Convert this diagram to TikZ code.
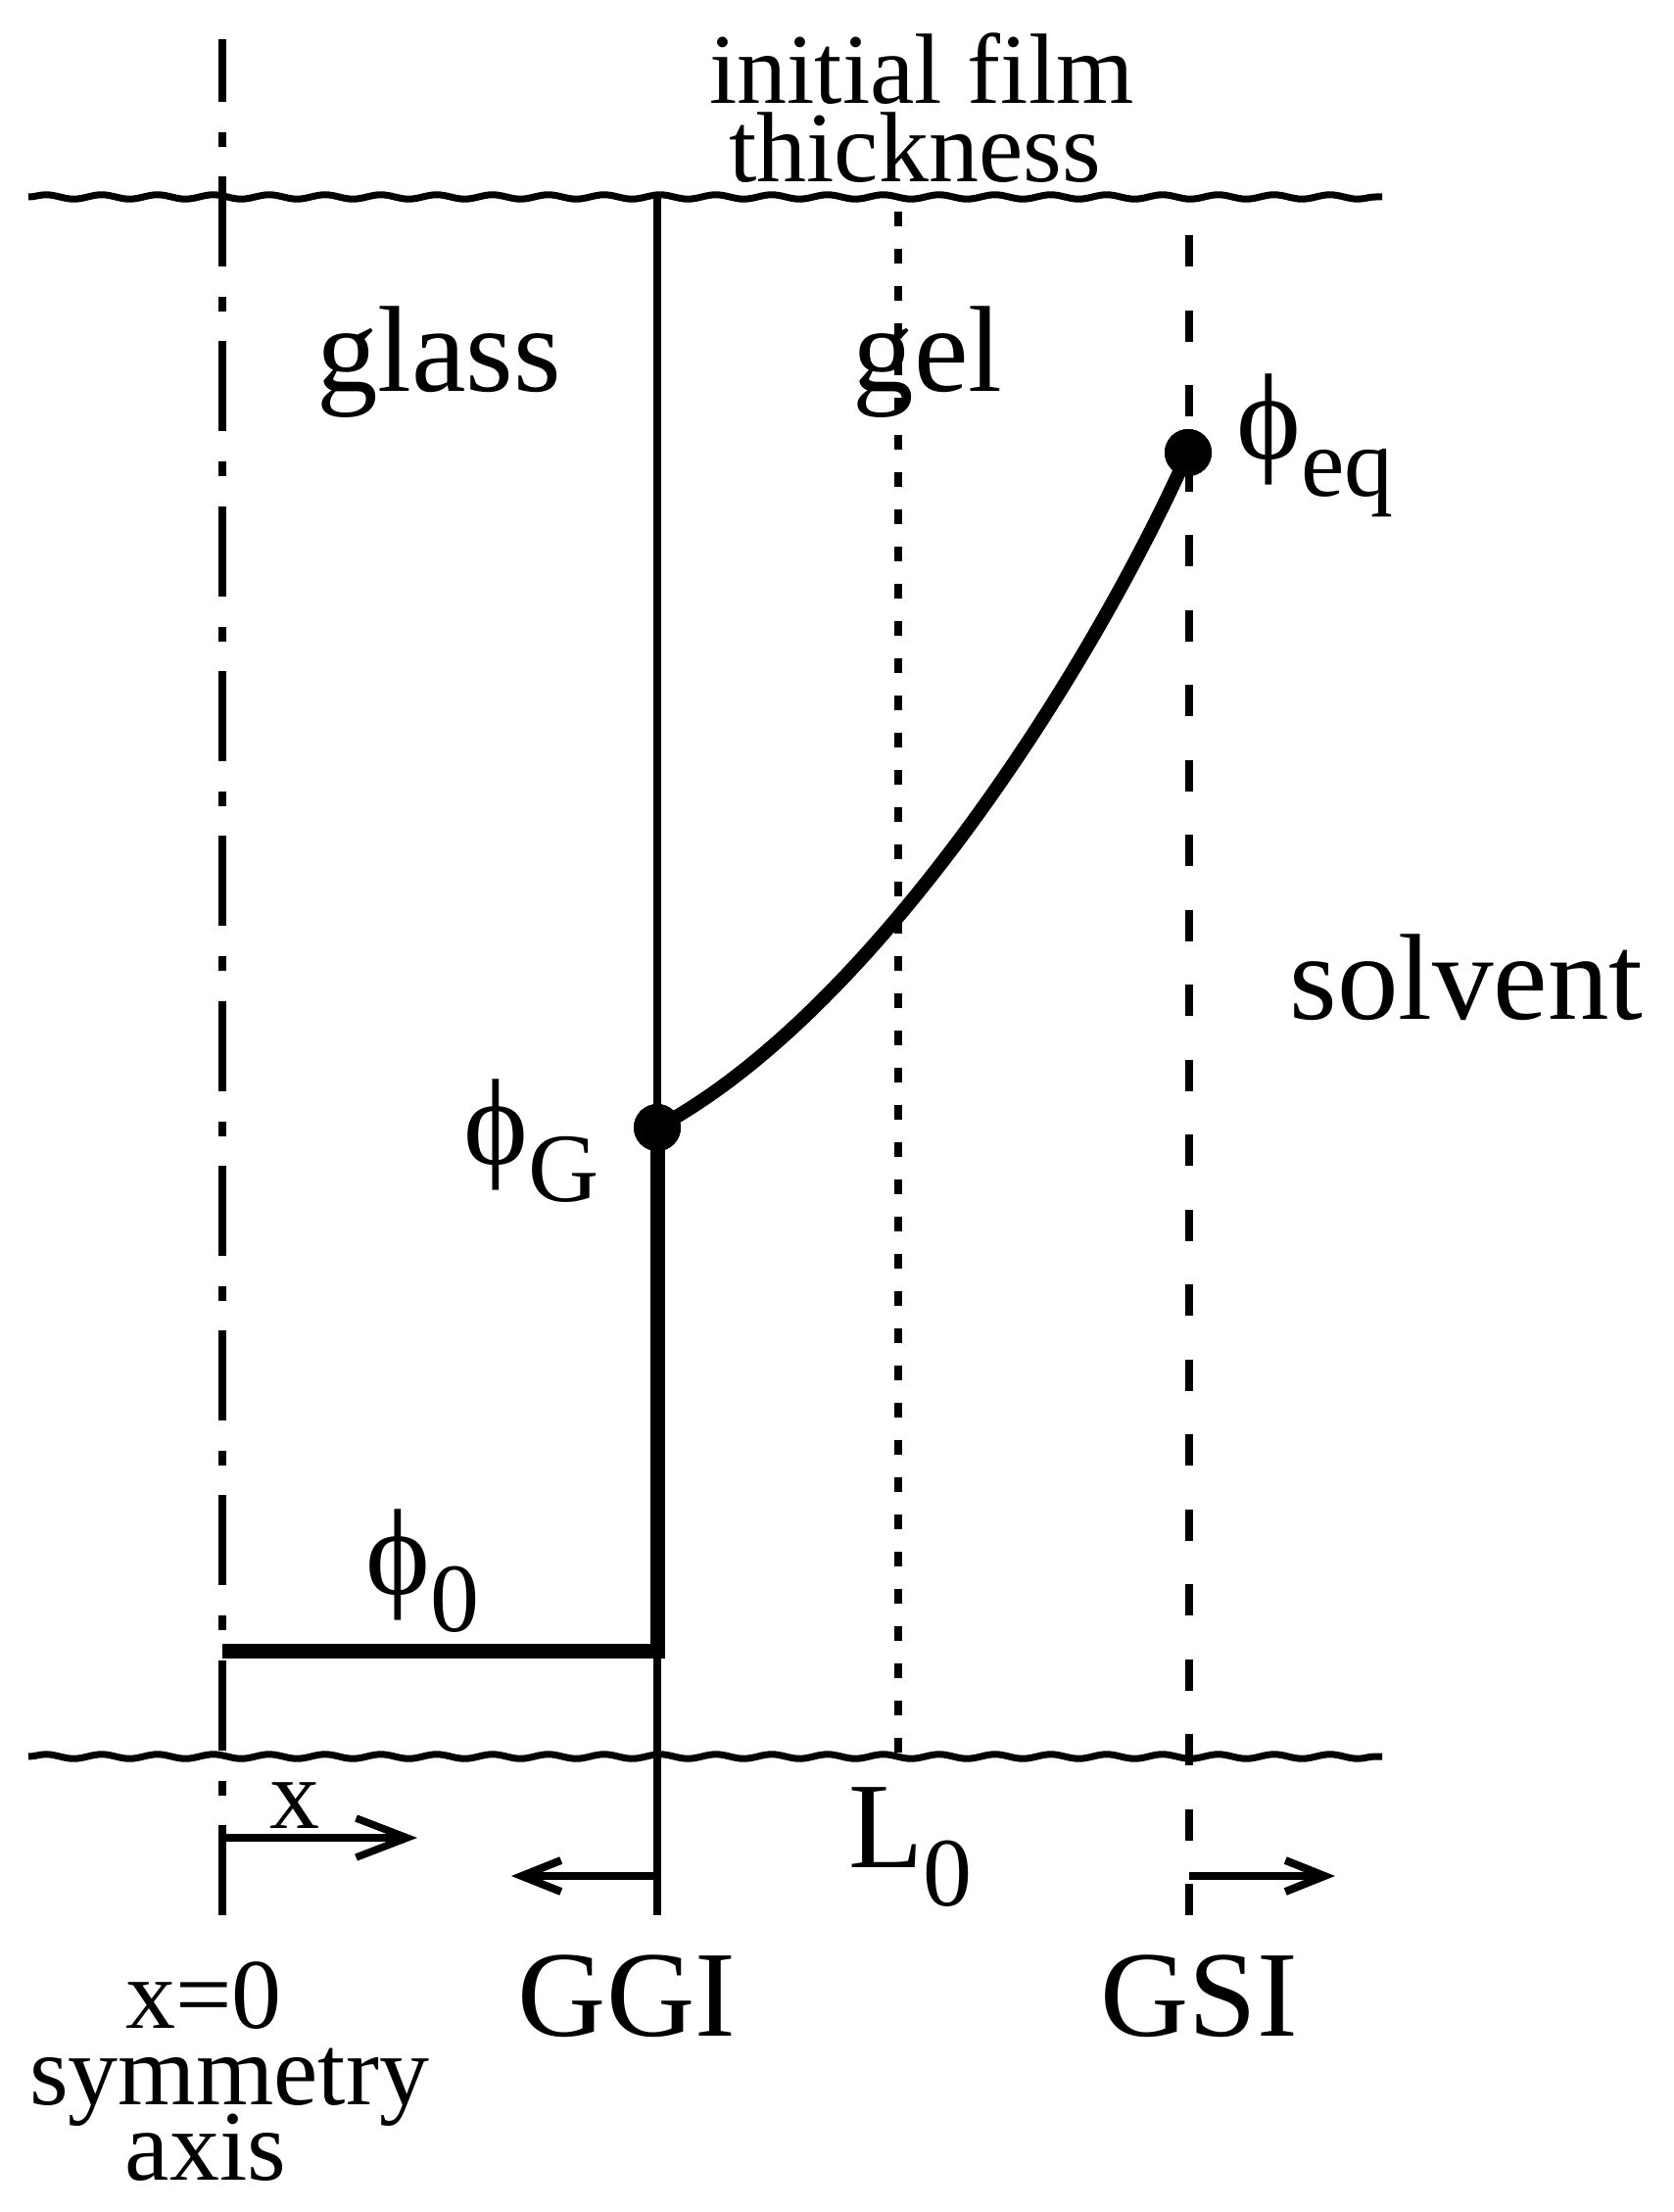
\documentclass[tikz,border=0pt]{standalone}
\usepackage{fontspec}
\setmainfont{Liberation Serif}
\usetikzlibrary{arrows.meta,decorations.pathmorphing}
\newcommand\philbl[1]{{\fontsize{125}{150}\selectfont ϕ}\raisebox{-38pt}{\fontsize{100}{120}\selectfont #1}}
\begin{document}
\begin{tikzpicture}[x=1pt,y=-1pt,
  big/.style={font=\fontsize{125}{150}\selectfont, inner sep=0pt, anchor=base},
  small/.style={font=\fontsize{102}{120}\selectfont, inner sep=0pt, anchor=base},
  sublbl/.style={inner sep=0pt, anchor=base west},
  thinln/.style={line width=8pt},
  thickln/.style={line width=15pt, line join=miter},
  wave/.style={line width=7pt, decorate, decoration={snake, segment length=57pt, amplitude=2.2pt}},
  axisln/.style={line width=8pt, dash pattern=on 92pt off 31pt on 15pt off 30.3pt, dash phase=28.3pt},
  dottedln/.style={line width=8pt, dash pattern=on 15pt off 23pt, dash phase=23pt},
  dashedln/.style={line width=8pt, dash pattern=on 32pt off 44.5pt},
  curveln/.style={line width=14pt},
  dotnode/.style={circle, fill=black, minimum size=48pt, inner sep=0pt},
  bigarr/.style={line width=7.5pt, -{Straight Barb[length=52pt,width=40pt]}},
  smallarr/.style={line width=8pt, -{Straight Barb[length=40pt,width=32pt]}}
]
\useasboundingbox (0,0) rectangle (1708,2258);

% coordinates
\coordinate (axT) at (227,40);
\coordinate (axB) at (227,1955);
\coordinate (wtL) at (29,201);
\coordinate (wtR) at (1411,201);
\coordinate (wbL) at (29,1793);
\coordinate (wbR) at (1411,1793);
\coordinate (ggT) at (671,201);
\coordinate (ggB) at (671,1955);
\coordinate (l0T) at (917,201);
\coordinate (l0B) at (917,1793);
\coordinate (gsT) at (1214,240);
\coordinate (gsB) at (1214,1956);
\coordinate (corner) at (671,1685);
\coordinate (p0L) at (227,1685);
\coordinate (xa0) at (227,1876);
\coordinate (xa1) at (426,1876);
\coordinate (ga0) at (671,1915);
\coordinate (ga1) at (522,1915);
\coordinate (sa0) at (1214,1915);
\coordinate (sa1) at (1363,1915);

% waves
\draw[wave] (wtL) -- (wtR);
\draw[wave] (wbL) -- (wbR);

% vertical lines
\draw[axisln] (axT) -- (axB);
\draw[thinln] (ggT) -- (ggB);
\draw[dottedln] (l0T) -- (l0B);
\draw[dashedln] (gsT) -- (gsB);

% profile
\node[dotnode] (pG) at (671,1151) {};
\node[dotnode] (pE) at (1213,462) {};
\draw[curveln] (pG.center) .. controls (891,1033) and (1111,690) .. (pE.center);
\draw[thickln] (pG.center) -- (corner) -- (p0L);
\node[dotnode] at (pG.center) {};
\node[dotnode] at (pE.center) {};

% arrows
\draw[bigarr] (xa0) -- (xa1);
\draw[smallarr] (ga0) -- (ga1);
\draw[smallarr] (sa0) -- (sa1);

% labels
\node[small] (t1) at (941,106) {initial film};
\node[small] (t2) at (934,186) {thickness};
\node[big] (glass) at (448,399) {glass};
\node[big] (gel) at (947,399) {gel};
\node[big] (solv) at (1497,1040) {solvent};
\node[big] (ggi) at (640,2078) {GGI};
\node[big] (gsi) at (1224,2078) {GSI};
\node[small] (xl) at (301,1866) {x};
\node[small] (x0) at (208,2070) {x=0};
\node[small] (sym) at (234,2148) {symmetry};
\node[small] (axl) at (210,2225) {axis};
\node[sublbl] (phiE) at (1262,468) {\philbl{eq}};
\node[sublbl] (phiG) at (473,1188) {\philbl{G}};
\node[sublbl] (phi0) at (373,1627) {\philbl{0}};
\node[sublbl] (L0) at (866,1906) {{\fontsize{125}{150}\selectfont L}\raisebox{-39pt}{\fontsize{100}{120}\selectfont 0}};
\end{tikzpicture}
\end{document}
